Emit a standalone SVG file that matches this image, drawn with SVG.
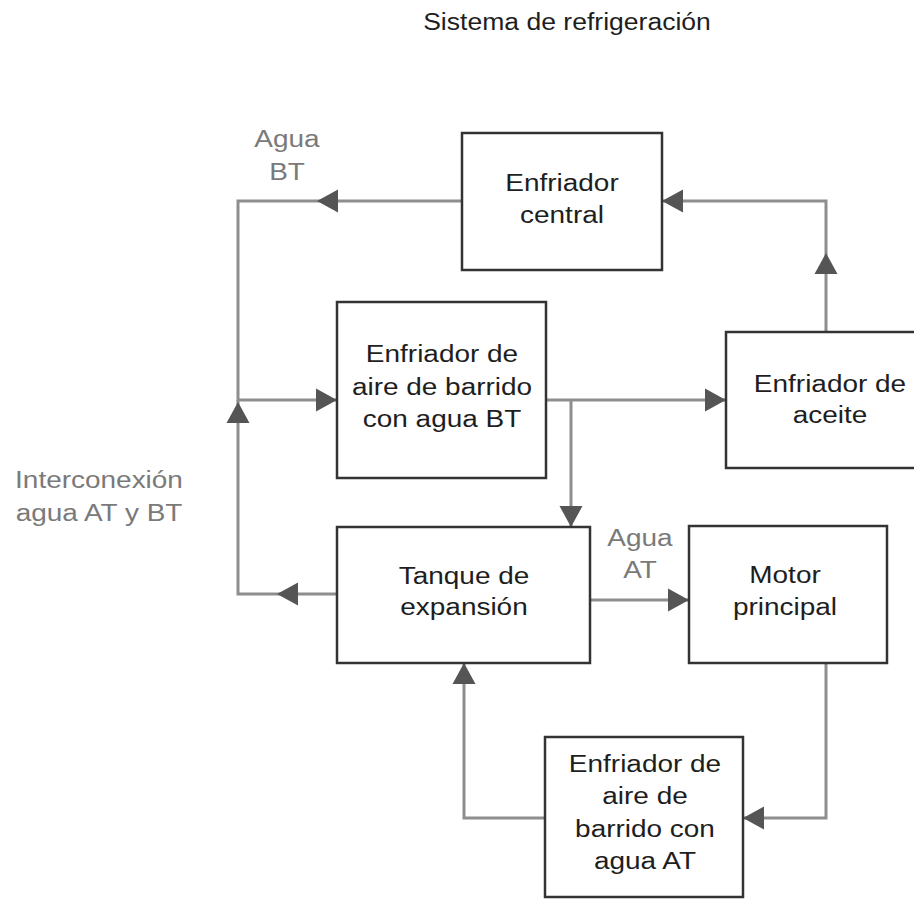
<svg xmlns="http://www.w3.org/2000/svg" xmlns:xlink="http://www.w3.org/1999/xlink" width="914" height="902" viewBox="0 0 914 902">
<style>
.box{fill:#fff;stroke:#333;stroke-width:2.5}
.t{font-family:"Liberation Sans",Arial,sans-serif;font-size:23.5px;fill:#1e1e1e;text-anchor:middle}
.g{fill:#7a7a7a}
.ln{fill:none;stroke:#8e8e8e;stroke-width:3}
.ah{fill:#555}
</style>
<defs>
<polygon id="arr" points="0,0 -21,-11.5 -21,11.5"/>
</defs>
<rect width="914" height="902" fill="#fff"/>
<text class="t" transform="translate(567,0) scale(1.13,1)" y="30">Sistema de refrigeración</text>
<g id="connectors">
<path class="ln" d="M462,201 H238 V400 H337"/>
<path class="ln" d="M337,594 H238 V400"/>
<path class="ln" d="M546,400 H726"/>
<path class="ln" d="M571,400 V527"/>
<path class="ln" d="M826,332 V201 H662"/>
<path class="ln" d="M590,600 H689"/>
<path class="ln" d="M826,663 V818 H743"/>
<path class="ln" d="M545,818 H464 V663"/>
<use class="ah" xlink:href="#arr" transform="translate(317,201) rotate(180)"/>
<use class="ah" xlink:href="#arr" transform="translate(662,201) rotate(180)"/>
<use class="ah" xlink:href="#arr" transform="translate(826,253) rotate(-90)"/>
<use class="ah" xlink:href="#arr" transform="translate(238,402) rotate(-90)"/>
<use class="ah" xlink:href="#arr" transform="translate(337,400)"/>
<use class="ah" xlink:href="#arr" transform="translate(726,400)"/>
<use class="ah" xlink:href="#arr" transform="translate(571,527) rotate(90)"/>
<use class="ah" xlink:href="#arr" transform="translate(277,594) rotate(180)"/>
<use class="ah" xlink:href="#arr" transform="translate(689,600)"/>
<use class="ah" xlink:href="#arr" transform="translate(743,818) rotate(180)"/>
<use class="ah" xlink:href="#arr" transform="translate(464,663) rotate(-90)"/>
<text class="t g" transform="translate(287,0) scale(1.19,1)"><tspan x="0" y="147">Agua</tspan><tspan x="0" y="180">BT</tspan></text>
<text class="t g" transform="translate(640,0) scale(1.19,1)"><tspan x="0" y="546">Agua</tspan><tspan x="0" y="578">AT</tspan></text>
<text class="t g" transform="translate(99,0) scale(1.19,1)"><tspan x="0" y="488">Interconexión</tspan><tspan x="0" y="521">agua AT y BT</tspan></text>
</g>
<g id="enfriador-central">
<rect class="box" x="462" y="133" width="200" height="137"/>
<text class="t" transform="translate(562,0) scale(1.19,1)"><tspan x="0" y="191">Enfriador</tspan><tspan x="0" y="223">central</tspan></text>
</g>
<g id="enfriador-bt">
<rect class="box" x="337" y="302" width="209" height="176"/>
<text class="t" transform="translate(442,0) scale(1.19,1)"><tspan x="0" y="362">Enfriador de</tspan><tspan x="0" y="395">aire de barrido</tspan><tspan x="0" y="427">con agua BT</tspan></text>
</g>
<g id="enfriador-aceite">
<rect class="box" x="726" y="332" width="208" height="136"/>
<text class="t" transform="translate(830,0) scale(1.19,1)"><tspan x="0" y="392">Enfriador de</tspan><tspan x="0" y="423">aceite</tspan></text>
</g>
<g id="tanque">
<rect class="box" x="337" y="527" width="253" height="136"/>
<text class="t" transform="translate(464,0) scale(1.19,1)"><tspan x="0" y="584">Tanque de</tspan><tspan x="0" y="615">expansión</tspan></text>
</g>
<g id="motor">
<rect class="box" x="689" y="526" width="198" height="137"/>
<text class="t" transform="translate(785,0) scale(1.19,1)"><tspan x="0" y="583">Motor</tspan><tspan x="0" y="615">principal</tspan></text>
</g>
<g id="enfriador-at">
<rect class="box" x="545" y="737" width="198" height="160"/>
<text class="t" transform="translate(645,0) scale(1.19,1)"><tspan x="0" y="772">Enfriador de</tspan><tspan x="0" y="804">aire de</tspan><tspan x="0" y="837">barrido con</tspan><tspan x="0" y="869">agua AT</tspan></text>
</g>
</svg>
